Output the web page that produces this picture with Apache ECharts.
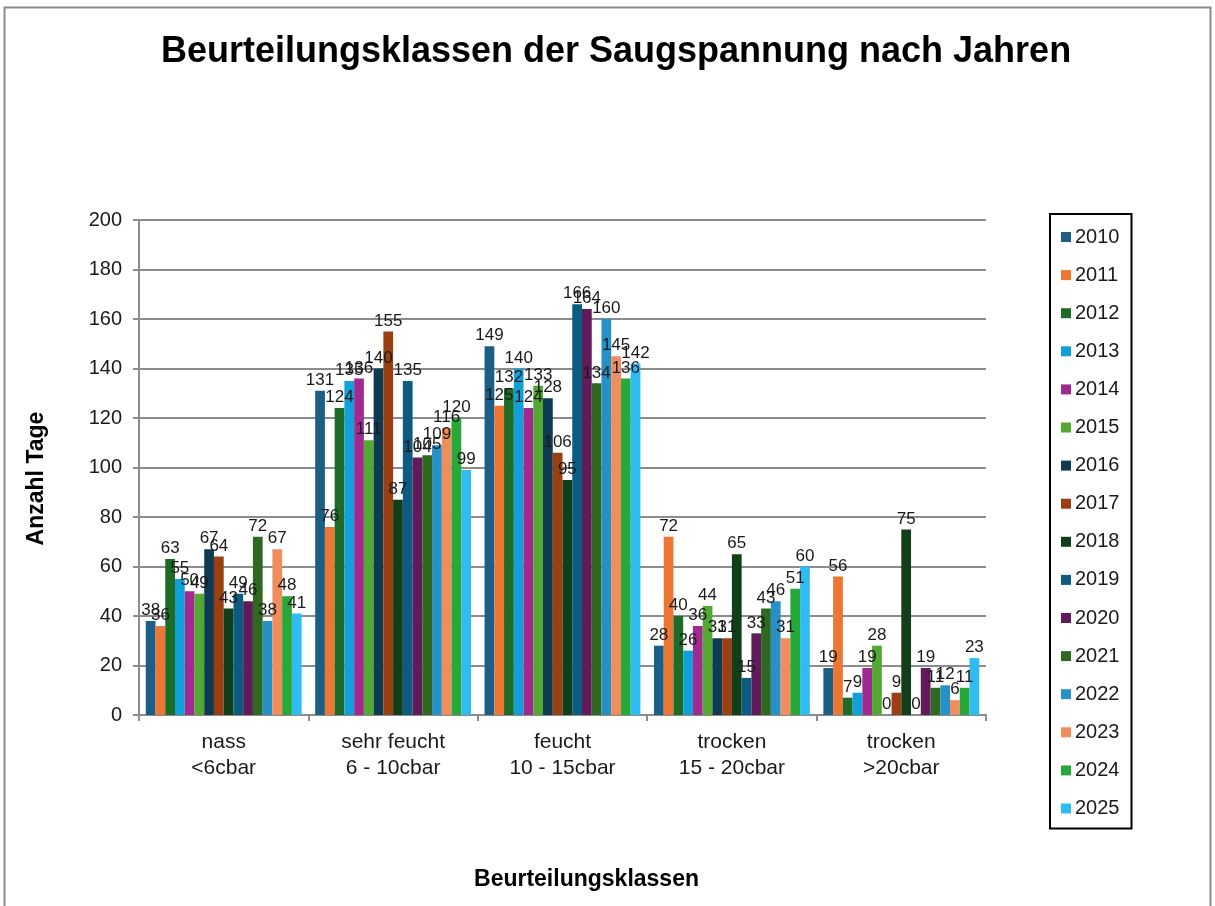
<!DOCTYPE html>
<html>
<head>
<meta charset="utf-8">
<title>Beurteilungsklassen der Saugspannung nach Jahren</title>
<script src="https://cdn.jsdelivr.net/npm/echarts@6/dist/echarts.min.js"></script>
<style>
  html, body { margin: 0; padding: 0; background: #fff; }
  #chart { width: 1215px; height: 906px; }
</style>
</head>
<body>
<div id="chart"></div>
<script>
var categories = ['nass\n<6cbar', 'sehr feucht\n6 - 10cbar', 'feucht\n10 - 15cbar', 'trocken\n15 - 20cbar', 'trocken\n>20cbar'];
var years = ['2010', '2011', '2012', '2013', '2014', '2015', '2016', '2017',
             '2018', '2019', '2020', '2021', '2022', '2023', '2024', '2025'];
var yTicks = [0, 20, 40, 60, 80, 100, 120, 140, 160, 180, 200];

// one array per year: nass, sehr feucht, feucht, trocken 15-20, trocken >20
var y2010 = [38, 131, 149, 28, 19];
var y2011 = [36, 76, 125, 72, 56];
var y2012 = [63, 124, 132, 40, 7];
var y2013 = [55, 135, 140, 26, 9];
var y2014 = [50, 136, 124, 36, 19];
var y2015 = [49, 111, 133, 44, 28];
var y2016 = [67, 140, 128, 31, 0];
var y2017 = [64, 155, 106, 31, 9];
var y2018 = [43, 87, 95, 65, 75];
var y2019 = [49, 135, 166, 15, 0];
var y2020 = [46, 104, 164, 33, 19];
var y2021 = [72, 105, 134, 43, 11];
var y2022 = [38, 109, 160, 46, 12];
var y2023 = [67, 116, 145, 31, 6];
var y2024 = [48, 120, 136, 51, 11];
var y2025 = [41, 99, 142, 60, 23];
var values = [y2010, y2011, y2012, y2013, y2014, y2015, y2016, y2017,
              y2018, y2019, y2020, y2021, y2022, y2023, y2024, y2025];

var colors = ['#1b5f86', '#ed7632', '#1c6b27', '#12a0d9', '#a12a91', '#52a832',
              '#0e3a52', '#993f12', '#113f19', '#0b5c80', '#611b5b', '#2f6820',
              '#2790c6', '#ef8d5c', '#29a83a', '#2fbcf2'];

var myChart = echarts.init(document.getElementById('chart'));

var series = [];
years.forEach(function (yr, i) {
  series.push({
    name: yr,
    type: 'bar',
    data: values[i],
    barGap: '0%',
    barCategoryGap: '8%',
    itemStyle: { color: colors[i] },
    label: {
      show: true,
      position: 'top',
      distance: 2,
      color: '#1a1a1a',
      fontFamily: 'Liberation Sans',
      fontSize: 17
    }
  });
});

var option = {
  backgroundColor: '#fff',
  color: colors,
  animation: false,
  title: {
    text: 'Beurteilungsklassen der Saugspannung nach Jahren',
    left: 611,
    textAlign: 'center',
    top: 29,
    textStyle: {
      fontFamily: 'Liberation Sans',
      fontWeight: 'bold',
      fontSize: 36,
      color: '#000'
    }
  },
  graphic: [{
    type: 'rect',
    shape: { x: 4.5, y: 7.5, width: 1206, height: 910 },
    style: { fill: 'none', stroke: '#8c8c8c', lineWidth: 2 },
    silent: true
  }],
  legend: {
    orient: 'vertical',
    left: 1050,
    top: 214,
    padding: [13, 12, 10, 11],
    itemGap: 18.1,
    itemWidth: 10,
    itemHeight: 10,
    icon: 'rect',
    borderColor: '#000',
    borderWidth: 2,
    textStyle: {
      fontFamily: 'Liberation Sans',
      fontSize: 20,
      color: '#1a1a1a',
      padding: [0, 0, 0, -1]
    },
    data: years
  },
  grid: {
    left: 139,
    right: 229,
    top: 220,
    bottom: 191,
    containLabel: false
  },
  xAxis: {
    type: 'category',
    data: categories,
    name: 'Beurteilungsklassen',
    nameLocation: 'middle',
    nameGap: 153,
    nameTextStyle: {
      fontFamily: 'Liberation Sans',
      fontWeight: 'bold',
      fontSize: 23,
      color: '#000',
      padding: [0, 0, 0, 48]
    },
    axisLine: { lineStyle: { color: '#8c8c8c', width: 2 } },
    axisTick: { show: true, length: 6, lineStyle: { color: '#8c8c8c', width: 2 } },
    axisLabel: {
      fontFamily: 'Liberation Sans',
      fontSize: 21,
      color: '#1a1a1a',
      lineHeight: 26,
      margin: 14
    }
  },
  yAxis: {
    type: 'value',
    min: yTicks[0],
    max: yTicks[yTicks.length - 1],
    interval: yTicks[1] - yTicks[0],
    name: 'Anzahl Tage',
    nameLocation: 'middle',
    nameGap: 91,
    nameTextStyle: {
      fontFamily: 'Liberation Sans',
      fontWeight: 'bold',
      fontSize: 23,
      color: '#000',
      padding: [0, 22, 0, 0]
    },
    axisLine: { show: true, lineStyle: { color: '#8c8c8c', width: 2 } },
    axisTick: { show: true, inside: false, length: 6, lineStyle: { color: '#8c8c8c', width: 2 } },
    axisLabel: {
      fontFamily: 'Liberation Sans',
      fontSize: 20,
      color: '#1a1a1a',
      margin: 17
    },
    splitLine: { lineStyle: { color: '#8c8c8c', width: 2 } }
  },
  series: series
};

myChart.setOption(option);
window.addEventListener('resize', function () {
  myChart.resize();
});
</script>
</body>
</html>
